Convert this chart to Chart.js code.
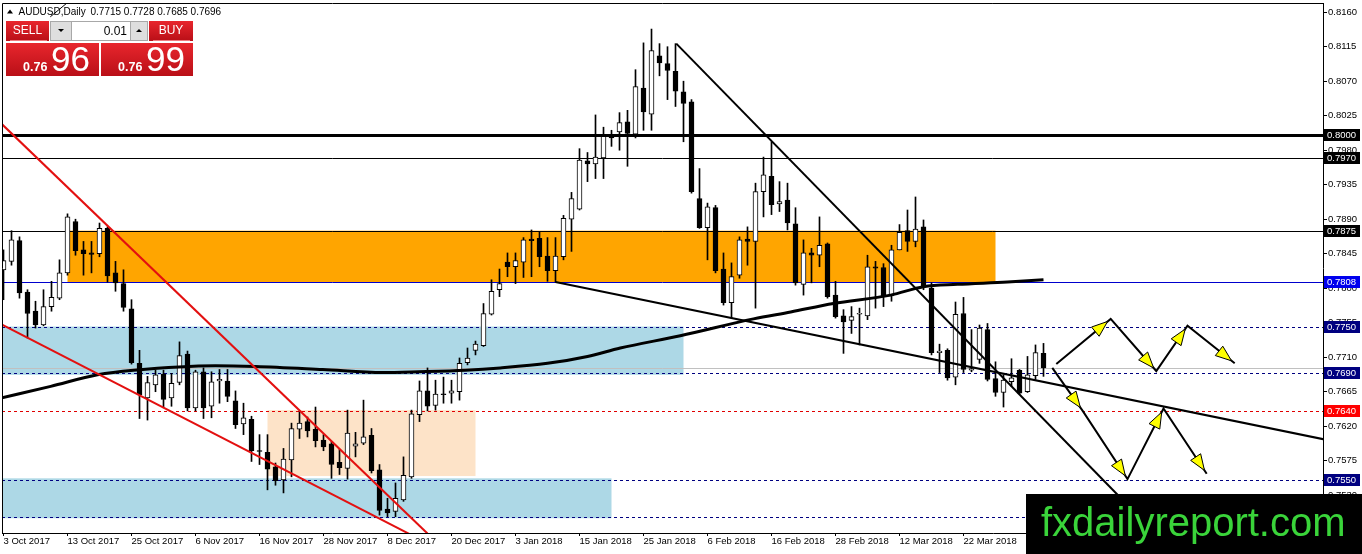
<!DOCTYPE html>
<html><head><meta charset="utf-8">
<script src="https://cdn.jsdelivr.net/npm/chart.js@4.4.0/dist/chart.umd.min.js"></script>
<style>html,body{margin:0;padding:0;background:#fff;overflow:hidden}#wrap{position:relative;width:1362px;height:554px}</style>
</head><body><div id="wrap"><canvas id="c"></canvas></div>
<script>
// ---------- data ----------
const symbolTitle = 'AUDUSD,Daily';
const lastOHLC = ['0.7715', '0.7728', '0.7685', '0.7696'];
const tickLabels = ['3 Oct 2017','13 Oct 2017','25 Oct 2017','6 Nov 2017','16 Nov 2017','28 Nov 2017','8 Dec 2017','20 Dec 2017','3 Jan 2018','15 Jan 2018','25 Jan 2018','6 Feb 2018','16 Feb 2018','28 Feb 2018','12 Mar 2018','22 Mar 2018'];
const tickBars = [0,8,16,24,32,40,48,56,64,72,80,88,96,104,112,120];
const yTicks = [0.8160,0.8115,0.8070,0.8025,0.7980,0.7935,0.7890,0.7845,0.7800,0.7755,0.7710,0.7665,0.7620,0.7575,0.7530];

const opens = [0.7824,0.7835,0.7862,0.7795,0.7770,0.7752,0.7776,0.7787,0.7820,0.7887,
0.7850,0.7846,0.7845,0.7878,0.7820,0.7806,0.7773,0.7702,0.7657,0.7674,
0.7688,0.7657,0.7677,0.7714,0.7644,0.7691,0.7646,0.7679,0.7679,0.7653,
0.7623,0.7629,0.7588,0.7586,0.7567,0.7550,0.7576,0.7616,0.7626,0.7616,
0.7602,0.7597,0.7573,0.7565,0.7594,0.7598,0.7608,0.7563,0.7512,0.7509,
0.7524,0.7554,0.7635,0.7666,0.7647,0.7662,0.7663,0.7665,0.7703,0.7719,
0.7725,0.7766,0.7798,0.7834,0.7828,0.7834,0.7864,0.7865,0.7842,0.7823,
0.7841,0.7890,0.7903,0.7966,0.7962,0.7970,0.8000,0.8004,0.8017,0.8001,
0.8061,0.8027,0.8103,0.8093,0.8083,0.8056,0.8043,0.7917,0.7879,0.7905,
0.7825,0.7781,0.7817,0.7864,0.7861,0.7926,0.7946,0.7910,0.7915,0.7884,
0.7805,0.7846,0.7843,0.7858,0.7791,0.7764,0.7758,0.7766,0.7764,0.7828,
0.7827,0.7790,0.7850,0.7875,0.7861,0.7880,0.7800,0.7716,0.7719,0.7684,
0.7767,0.7693,0.7707,0.7746,0.7682,0.7664,0.7678,0.7693,0.7665,0.7686,
0.7715];
const highs = [0.7850,0.7875,0.7867,0.7798,0.7783,0.7798,0.7809,0.7837,0.7897,0.7890,
0.7861,0.7861,0.7885,0.7880,0.7835,0.7824,0.7785,0.7719,0.7685,0.7693,
0.7693,0.7689,0.7730,0.7718,0.7693,0.7696,0.7691,0.7694,0.7694,0.7666,
0.7650,0.7633,0.7609,0.7609,0.7572,0.7591,0.7624,0.7639,0.7632,0.7645,
0.7609,0.7600,0.7590,0.7641,0.7612,0.7654,0.7617,0.7570,0.7526,0.7546,
0.7580,0.7641,0.7679,0.7696,0.7680,0.7684,0.7680,0.7709,0.7722,0.7731,
0.7780,0.7811,0.7825,0.7846,0.7846,0.7866,0.7876,0.7873,0.7866,0.7866,
0.7895,0.7925,0.7982,0.7977,0.8026,0.8010,0.8006,0.8029,0.8032,0.8085,
0.8120,0.8138,0.8119,0.8115,0.8119,0.8070,0.8046,0.7956,0.7911,0.7908,
0.7846,0.7833,0.7867,0.7880,0.7937,0.7971,0.7991,0.7939,0.7937,0.7905,
0.7863,0.7852,0.7893,0.7859,0.7809,0.7772,0.7776,0.7774,0.7843,0.7835,
0.7832,0.7856,0.7883,0.7902,0.7919,0.7889,0.7807,0.7727,0.7721,0.7782,
0.7788,0.7746,0.7752,0.7754,0.7704,0.7687,0.7708,0.7694,0.7711,0.7726,
0.7728];
const lows = [0.7785,0.7830,0.7787,0.7735,0.7748,0.7751,0.7770,0.7785,0.7817,0.7843,
0.7817,0.7820,0.7841,0.7808,0.7796,0.7770,0.7701,0.7630,0.7628,0.7665,
0.7644,0.7646,0.7674,0.7640,0.7640,0.7630,0.7631,0.7650,0.7652,0.7617,
0.7609,0.7574,0.7570,0.7537,0.7543,0.7533,0.7554,0.7604,0.7606,0.7593,
0.7588,0.7552,0.7557,0.7551,0.7580,0.7596,0.7559,0.7504,0.7502,0.7502,
0.7522,0.7552,0.7626,0.7640,0.7641,0.7650,0.7650,0.7654,0.7700,0.7713,
0.7724,0.7765,0.7789,0.7815,0.7806,0.7814,0.7815,0.7828,0.7809,0.7808,
0.7837,0.7848,0.7902,0.7939,0.7943,0.7943,0.7985,0.7980,0.7959,0.7996,
0.8006,0.8006,0.8077,0.8046,0.8037,0.7991,0.7924,0.7878,0.7837,0.7820,
0.7778,0.7761,0.7813,0.7830,0.7774,0.7893,0.7896,0.7900,0.7876,0.7804,
0.7791,0.7807,0.7828,0.7787,0.7761,0.7715,0.7741,0.7726,0.7759,0.7774,
0.7776,0.7783,0.7850,0.7848,0.7854,0.7798,0.7713,0.7690,0.7680,0.7674,
0.7690,0.7691,0.7702,0.7679,0.7659,0.7645,0.7672,0.7662,0.7664,0.7681,
0.7685];
const closes = [0.7836,0.7863,0.7794,0.7767,0.7752,0.7776,0.7788,0.7820,0.7893,0.7849,
0.7845,0.7844,0.7878,0.7816,0.7807,0.7775,0.7703,0.7661,0.7677,0.7687,
0.7655,0.7676,0.7712,0.7644,0.7691,0.7644,0.7678,0.7681,0.7659,0.7622,
0.7631,0.7588,0.7587,0.7564,0.7549,0.7577,0.7617,0.7624,0.7614,0.7601,
0.7593,0.7570,0.7566,0.7611,0.7597,0.7606,0.7562,0.7510,0.7507,0.7526,
0.7556,0.7636,0.7666,0.7646,0.7662,0.7661,0.7666,0.7702,0.7709,0.7727,
0.7767,0.7796,0.7806,0.7828,0.7836,0.7863,0.7862,0.7841,0.7823,0.7842,
0.7891,0.7917,0.7967,0.7962,0.7971,0.7998,0.7996,0.8016,0.8002,0.8063,
0.8030,0.8110,0.8094,0.8084,0.8057,0.8041,0.7926,0.7879,0.7906,0.7823,
0.7781,0.7815,0.7863,0.7861,0.7926,0.7948,0.7909,0.7913,0.7885,0.7807,
0.7846,0.7843,0.7856,0.7789,0.7763,0.7756,0.7763,0.7767,0.7828,0.7826,
0.7790,0.7850,0.7873,0.7861,0.7877,0.7802,0.7716,0.7718,0.7683,0.7766,
0.7694,0.7695,0.7748,0.7681,0.7664,0.7680,0.7683,0.7663,0.7687,0.7716,
0.7696];

// moving average
const maBars   = [-0.19,5.9,11.75,16.25,26.5,31.5,39.9,47.4,51.9,57.75,62.1,68,73,77.1,84.6,93.75,98.4,103.75,110.9,115,119.25,125.5,130];
const maValues = [0.7657,0.7672,0.7687,0.7693,0.7699,0.7698,0.7694,0.7690,0.7691,0.7693,0.7696,0.7702,0.7711,0.7722,0.7738,0.7760,0.7769,0.7780,0.7791,0.7802,0.7805,0.7808,0.7811];

// trend lines (bar index, price)
const redABars = [-1, 53];      const redAPrices = [0.8022, 0.7480];
const redBBars = [-1, 51];      const redBPrices = [0.7757, 0.7478];
const downBars = [84.1, 141];   const downPrices = [0.8119, 0.7512];
const flatBars = [69, 165];     const flatPrices = [0.7808, 0.7603];
const slashBars = [5.85, 8.4];  const slashPrices = [0.8154, 0.8176];

// projected paths
const upPathBars   = [131.6, 138.4, 144.1, 148.0, 153.9];
const upPathPrices = [0.7701, 0.7760, 0.7692, 0.7751, 0.7702];
const dnPathBars   = [131.1, 134.9, 140.5, 145.0, 150.4];
const dnPathPrices = [0.7696, 0.7640, 0.7551, 0.7643, 0.7558];

// zones
const zoneStartBars = [8, -1, 33, -1];
const zoneEndBars   = [124, 85, 59, 76];
const zoneTops      = [0.7875, 0.7750, 0.7641, 0.7552];
const zoneBottoms   = [0.7808, 0.7687, 0.7555, 0.7500];

// horizontal levels
const levelPrices = [0.8000, 0.7970, 0.7875, 0.7808, 0.7750, 0.7696, 0.7690, 0.7640, 0.7550, 0.7502];
const labelPrices = [0.8000, 0.7970, 0.7875, 0.7808, 0.7750, 0.7690, 0.7640, 0.7550];

// trade panel texts
const sellBig = ['0.76', '96'];
const buyBig = ['0.76', '99'];
const lotSize = '0.01';
const siteName = 'fxdailyreport.com';

// ---------- styles ----------
const zoneColors = ['#ffa500', '#add8e6', '#fde3c8', '#add8e6'];
const levelStyles = [
  {c:'#000000', w:3, d:[]},
  {c:'#000000', w:1, d:[]},
  {c:'#000000', w:1, d:[]},
  {c:'#0000cd', w:1, d:[]},
  {c:'#000080', w:1, d:[3,3]},
  {c:'#c0c0c0', w:1, d:[]},
  {c:'#000080', w:1, d:[3,3]},
  {c:'#e00000', w:1, d:[3,3]},
  {c:'#000080', w:1, d:[3,3]},
  {c:'#000080', w:1, d:[3,3]}
];
const labelColors = ['#000000','#000000','#000000','#0000ee','#000080','#000080','#ff0000','#000080'];
const FONT = "'Liberation Sans', Arial, sans-serif";

const idx = opens.map((_, i) => i);
const pts = (bars, prices) => bars.map((b, k) => ({x: b, y: prices[k]}));
const lineDs = (bars, prices, color, width, extra) => Object.assign({
  type: 'line', data: pts(bars, prices), borderColor: color, borderWidth: width,
  pointRadius: 0, fill: false, tension: 0, clip: 0, order: 1
}, extra || {});

const decor = {
  id: 'decor',
  beforeDatasetsDraw(chart) {
    const {ctx, chartArea: a, scales: {x, y}} = chart;
    ctx.save();
    ctx.beginPath(); ctx.rect(a.left, a.top, a.right - a.left, a.bottom - a.top); ctx.clip();
    zoneStartBars.forEach((s, k) => {
      const x0 = x.getPixelForValue(s), x1 = x.getPixelForValue(zoneEndBars[k]);
      const y0 = y.getPixelForValue(zoneTops[k]), y1 = y.getPixelForValue(zoneBottoms[k]);
      ctx.fillStyle = zoneColors[k];
      ctx.fillRect(x0, y0, x1 - x0, y1 - y0);
    });
    levelPrices.forEach((p, k) => {
      const st = levelStyles[k];
      let py = y.getPixelForValue(p);
      py = st.w % 2 ? Math.round(py) + 0.5 : Math.round(py);
      ctx.strokeStyle = st.c; ctx.lineWidth = st.w; ctx.setLineDash(st.d);
      ctx.beginPath(); ctx.moveTo(a.left, py); ctx.lineTo(a.right, py); ctx.stroke();
    });
    ctx.restore();
  },
  afterDatasetsDraw(chart) {
    const {ctx, chartArea: a, scales: {x, y}} = chart;
    ctx.save();
    ctx.beginPath(); ctx.rect(a.left, a.top, a.right - a.left, a.bottom - a.top); ctx.clip();
    const heads = (bars, prices) => {
      for (let k = 1; k < bars.length; k++) {
        const xa = x.getPixelForValue(bars[k-1]), ya = y.getPixelForValue(prices[k-1]);
        const xb = x.getPixelForValue(bars[k]), yb = y.getPixelForValue(prices[k]);
        const L = Math.hypot(xb - xa, yb - ya), ux = (xb - xa) / L, uy = (yb - ya) / L;
        const tx = xb - 4 * ux, ty = yb - 4 * uy;
        const bx = tx - 16 * ux, by = ty - 16 * uy;
        ctx.beginPath();
        ctx.moveTo(tx, ty);
        ctx.lineTo(bx - 6 * uy, by + 6 * ux);
        ctx.lineTo(bx + 6 * uy, by - 6 * ux);
        ctx.closePath();
        ctx.fillStyle = '#ffff00'; ctx.fill();
        ctx.strokeStyle = '#000'; ctx.lineWidth = 1; ctx.setLineDash([]); ctx.stroke();
      }
    };
    heads(upPathBars, upPathPrices);
    heads(dnPathBars, dnPathPrices);
    ctx.restore();
    // frame top / left
    ctx.save();
    ctx.strokeStyle = '#000'; ctx.lineWidth = 1;
    ctx.beginPath();
    ctx.moveTo(a.left + 0.5, a.bottom); ctx.lineTo(a.left + 0.5, a.top + 0.5); ctx.lineTo(a.right, a.top + 0.5);
    ctx.stroke();
    ctx.restore();
  },
  afterDraw(chart) {
    const {ctx, chartArea: a, scales: {y}} = chart;
    ctx.save();
    // price label boxes
    ctx.font = '9.5px ' + FONT; ctx.textBaseline = 'middle'; ctx.textAlign = 'left';
    labelPrices.forEach((p, k) => {
      const py = Math.round(y.getPixelForValue(p));
      ctx.fillStyle = labelColors[k];
      ctx.fillRect(a.right + 1, py - 6, 36, 12);
      ctx.fillStyle = '#fff';
      ctx.fillText(p.toFixed(4), a.right + 4, py + 0.5);
    });
    // header
    ctx.fillStyle = '#000';
    ctx.beginPath(); ctx.moveTo(7, 13.5); ctx.lineTo(13, 13.5); ctx.lineTo(10, 9.5); ctx.closePath(); ctx.fill();
    ctx.font = '10px ' + FONT;
    ctx.textBaseline = 'alphabetic';
    ctx.fillText(symbolTitle, 18.5, 15);
    ctx.fillText(lastOHLC.join(' '), 90.5, 15);
    // trade panel
    const red = (x0, y0, w, h) => {
      const g = ctx.createLinearGradient(0, y0, 0, y0 + h);
      g.addColorStop(0, '#e8262d'); g.addColorStop(1, '#b90f17');
      ctx.fillStyle = g; ctx.fillRect(x0, y0, w, h);
    };
    red(6, 21, 43, 20); red(149, 21, 44, 20);
    red(6, 43, 93, 33); red(101, 43, 92, 33);
    ctx.strokeStyle = '#f07a7e'; ctx.lineWidth = 1;
    ctx.beginPath(); ctx.moveTo(10, 40.5); ctx.lineTo(47, 40.5); ctx.moveTo(153, 40.5); ctx.lineTo(190, 40.5); ctx.stroke();
    ctx.fillStyle = '#dedede'; ctx.fillRect(50, 21, 21, 20); ctx.fillRect(130, 21, 18, 20);
    ctx.fillStyle = '#fff'; ctx.fillRect(71, 21, 59, 20);
    ctx.strokeStyle = '#a8a8a8';
    ctx.strokeRect(50.5, 21.5, 97, 19);
    ctx.beginPath(); ctx.moveTo(71.5, 21); ctx.lineTo(71.5, 41); ctx.moveTo(130.5, 21); ctx.lineTo(130.5, 41); ctx.stroke();
    ctx.fillStyle = '#000';
    ctx.beginPath(); ctx.moveTo(58, 29); ctx.lineTo(64, 29); ctx.lineTo(61, 32); ctx.closePath(); ctx.fill();
    ctx.beginPath(); ctx.moveTo(136, 32); ctx.lineTo(142, 32); ctx.lineTo(139, 29); ctx.closePath(); ctx.fill();
    ctx.font = '12px ' + FONT; ctx.textBaseline = 'middle';
    ctx.textAlign = 'right'; ctx.fillText(lotSize, 127, 31.5);
    ctx.fillStyle = '#fff'; ctx.textAlign = 'center';
    ctx.font = '12px ' + FONT;
    ctx.fillText('SELL', 27.5, 31); ctx.fillText('BUY', 171, 31);
    ctx.textAlign = 'left'; ctx.textBaseline = 'alphabetic';
    ctx.font = 'bold 12.5px ' + FONT;
    ctx.fillText(sellBig[0], 23, 71); ctx.fillText(buyBig[0], 118, 71);
    ctx.font = '35px ' + FONT;
    ctx.fillText(sellBig[1], 51, 71); ctx.fillText(buyBig[1], 146, 71);
    // site banner
    ctx.fillStyle = '#000'; ctx.fillRect(1026, 494, 336, 60);
    ctx.fillStyle = '#3ad43a'; ctx.font = '40px ' + FONT;
    ctx.fillText(siteName, 1041, 536);
    ctx.restore();
  }
};

new Chart(document.getElementById('c'), {
  type: 'bar',
  data: {
    datasets: [
      lineDs(upPathBars, upPathPrices, '#000', 2, {order: 0}),
      lineDs(dnPathBars, dnPathPrices, '#000', 2, {order: 0}),
      lineDs(redABars, redAPrices, '#e31010', 2),
      lineDs(redBBars, redBPrices, '#e31010', 2),
      lineDs(downBars, downPrices, '#000', 2),
      lineDs(flatBars, flatPrices, '#000', 2),
      lineDs(slashBars, slashPrices, '#000', 1),
      lineDs(maBars, maValues, '#000', 3, {cubicInterpolationMode: 'monotone'}),
      {
        type: 'bar', label: 'body', order: 2, grouped: false,
        data: idx.map(i => ({x: i, y: [opens[i], closes[i]]})),
        backgroundColor: c => closes[c.dataIndex] >= opens[c.dataIndex] ? '#ffffff' : '#000000',
        borderColor: '#000', borderWidth: 1, borderSkipped: false, barThickness: 5, minBarLength: 1
      },
      {
        type: 'bar', label: 'wick', order: 3, grouped: false,
        data: idx.map(i => ({x: i, y: [lows[i], highs[i]]})),
        backgroundColor: '#000', borderWidth: 0, barThickness: 1
      }
    ]
  },
  options: {
    responsive: true, maintainAspectRatio: false, animation: false, events: [],
    layout: {padding: {left: 2, top: 3, right: 0, bottom: 0}},
    plugins: {legend: {display: false}, tooltip: {enabled: false}},
    scales: {
      x: {
        type: 'linear', position: 'bottom', offset: false,
        min: -0.1875, max: 164.9375,
        afterFit: s => { s.height = 21; s.paddingLeft = 0; s.paddingRight = 0; },
        afterBuildTicks: s => { s.ticks = tickBars.map(v => ({value: v})); },
        grid: {drawOnChartArea: false, drawTicks: true, tickLength: 3, color: '#000', offset: false},
        border: {display: true, color: '#000', width: 1},
        ticks: {
          autoSkip: false, maxRotation: 0, minRotation: 0, align: 'start', padding: 0,
          color: '#000', font: {family: FONT, size: 9.5},
          callback: v => tickLabels[tickBars.indexOf(v)]
        }
      },
      y: {
        type: 'linear', position: 'right', beginAtZero: false,
        min: 0.74807, max: 0.81720,
        afterFit: s => { s.width = 39; s.paddingTop = 0; s.paddingBottom = 0; },
        afterBuildTicks: s => { s.ticks = yTicks.map(v => ({value: v})); },
        grid: {drawOnChartArea: false, drawTicks: true, tickLength: 4, color: '#000'},
        border: {display: true, color: '#000', width: 1},
        ticks: {
          padding: 1, color: '#000', font: {family: FONT, size: 9.5},
          callback: v => Number(v).toFixed(4)
        }
      }
    }
  },
  plugins: [decor]
});
</script>
</body></html>
